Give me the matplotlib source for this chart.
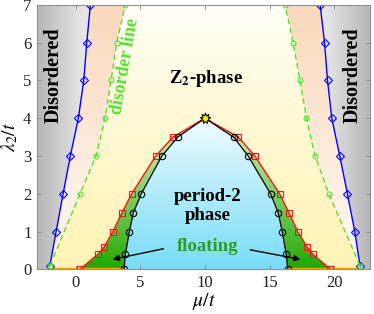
import numpy as np
import matplotlib
matplotlib.use("Agg")
import matplotlib.pyplot as plt
from matplotlib.patches import Polygon
from matplotlib.colors import to_rgb

plt.rcParams['font.family'] = ['Liberation Serif', 'DejaVu Serif']
plt.rcParams['mathtext.fontset'] = 'stix'

# ---- data ----
blue_lam = [0.1, 1, 2, 3, 4, 5, 6, 7]
blue_left_mu = [-2.0, -1.52, -0.98, -0.42, 0.2, 0.62, 0.85, 1.13]
blue_right_mu = [22.0, 21.6, 21.03, 20.44, 19.82, 19.49, 19.26, 18.92]

green_lam = [0.1, 2, 3, 4, 5, 6, 7]
green_left_mu = [-2.0, 0.33, 1.57, 2.27, 2.73, 3.17, 3.84]
green_right_mu = [22.0, 19.59, 18.53, 17.86, 17.35, 16.83, 16.21]

red_lam = [0, 0.4, 0.6, 1, 1.5, 2, 3, 3.5, 4]
red_left_mu = [0.33, 1.72, 2.21, 2.88, 3.58, 4.33, 6.19, 7.52, 10]
red_right_mu = [19.72, 18.35, 17.89, 17.19, 16.5, 15.78, 13.87, 12.58, 10]

black_lam = [0, 0.4, 1, 1.5, 2, 3, 3.5, 4]
black_left_mu = [3.74, 3.84, 4.15, 4.46, 5.07, 6.67, 7.89, 10]
black_right_mu = [16.42, 16.29, 15.98, 15.67, 15.08, 13.35, 12.22, 10]

star_mu, star_lam = 10, 4

xticks = [0, 5, 10, 15, 20]
yticks = [0, 1, 2, 3, 4, 5, 6, 7]
XMIN, XMAX, YMIN, YMAX = -3, 22.8, 0, 7

fig = plt.figure(figsize=(3.74, 3.14), dpi=100)
ax = fig.add_axes([0.099, 0.1423, 0.891, 0.842])
ax.set_xlim(XMIN, XMAX)
ax.set_ylim(YMIN, YMAX)

extent = [XMIN, XMAX, YMIN, YMAX]
nx, ny = 300, 300
gx = np.linspace(XMIN, XMAX, nx)
gy = np.linspace(YMAX, YMIN, ny)  # top row first
GX, GY = np.meshgrid(gx, gy)


def grad_img(c0, c1, t):
    c0 = np.array(to_rgb(c0)); c1 = np.array(to_rgb(c1))
    t = np.clip(t, 0, 1)[..., None]
    return c0 * (1 - t) + c1 * t


def region(img, verts, z):
    poly = Polygon(verts, closed=True, facecolor='none', edgecolor='none', transform=ax.transData)
    ax.add_patch(poly)
    im = ax.imshow(img, extent=extent, origin='upper', aspect='auto', zorder=z, interpolation='bilinear')
    im.set_clip_path(poly)


# Z2 background: vertical gradient white (top) -> pale yellow (bottom)
z2 = grad_img('#FFFFFA', '#FFF3B4', (1 - GY / 7) ** 0.8)
region(z2, [(XMIN, 0), (XMAX, 0), (XMAX, 7), (XMIN, 7)], 0.1)

# gray regions
gl = grad_img('#B6B6B6', '#E6E6E6', (GX - XMIN) / 3.5)
region(gl, [(XMIN, 0), (XMIN, 7)] + list(zip(blue_left_mu[::-1], blue_lam[::-1])) + [(blue_left_mu[0], 0)], 0.2)
gr = grad_img('#B6B6B6', '#E6E6E6', (XMAX - GX) / 3.5)
region(gr, [(XMAX, 0), (XMAX, 7)] + list(zip(blue_right_mu[::-1], blue_lam[::-1])) + [(blue_right_mu[0], 0)], 0.2)

# peach regions between blue and green
pe = grad_img('#FFFAF5', '#FAD8BA', (GY / 7) ** 1.0)
region(pe, list(zip(blue_left_mu, blue_lam)) + list(zip(green_left_mu[::-1], green_lam[::-1])), 0.2)
region(pe, list(zip(blue_right_mu, blue_lam)) + list(zip(green_right_mu[::-1], green_lam[::-1])), 0.2)

# floating (between red and black)
fl = grad_img('#1FA600', '#D2EEB6', (GY / 3.8) ** 0.9)
region(fl, list(zip(red_left_mu, red_lam)) + list(zip(red_right_mu[::-1], red_lam[::-1])), 0.3)

# period-2 (inside black)
cy = grad_img('#7ADDF7', '#F2FCFF', (GY / 4.0) ** 1.1)
region(cy, list(zip(black_left_mu, black_lam)) + list(zip(black_right_mu[::-1], black_lam[::-1])), 0.4)

# orange lines along axis
ax.plot([blue_left_mu[0], black_left_mu[0]], [0, 0], color='#FFA500', lw=2.5, zorder=1, solid_capstyle='butt')
ax.plot([black_right_mu[0], blue_right_mu[0]], [0, 0], color='#FFA500', lw=2.5, zorder=1, solid_capstyle='butt')

# lines
mk = dict(markerfacecolor='none', markeredgewidth=0.8)
for mu in (blue_left_mu, blue_right_mu):
    ax.plot(mu, blue_lam, '-', color='#0000FF', lw=1.0, marker='D', ms=3.6, zorder=3, **mk)
for mu in (green_left_mu, green_right_mu):
    ax.plot(mu, green_lam, '--', color='#55E033', lw=1.0, marker='o', ms=3.6, zorder=3, dashes=(4, 2.5), **mk)
for mu in (red_left_mu, red_right_mu):
    ax.plot(mu[:-1], red_lam[:-1], '-', color='#F01818', lw=1.0, marker='s', ms=4.2, zorder=3, **mk)
    ax.plot(mu[-2:], red_lam[-2:], '-', color='#F01818', lw=1.0, zorder=3)
for mu in (black_left_mu, black_right_mu):
    ax.plot(mu[:-1], black_lam[:-1], '-', color='black', lw=0.9, marker='o', ms=4.6, zorder=3.5, **mk)
    ax.plot(mu[-2:], black_lam[-2:], '-', color='black', lw=0.9, zorder=3.5)

ax.plot([star_mu], [star_lam], marker=(9, 1, 0), ms=8, markerfacecolor='#FFF200',
        markeredgecolor='black', markeredgewidth=0.7, zorder=5, linestyle='none')

# texts
ax.text(-1.73, 5.13, 'Disordered', rotation=90, ha='center', va='center', fontsize=14.5,
        fontweight='bold', zorder=6)
ax.text(21.47, 5.13, 'Disordered', rotation=90, ha='center', va='center', fontsize=14.5,
        fontweight='bold', zorder=6)
ax.text(3.85, 5.37, 'disorder line', rotation=80, ha='center', va='center', fontsize=13,
        fontweight='bold', color='#55E033', zorder=6)
ax.text(10.1, 5.06, r'Z$_\mathbf{2}$-phase', ha='center', va='center', fontsize=13.5,
        fontweight='bold', zorder=6)
ax.text(10.2, 1.68, 'period-2\nphase', ha='center', va='center', fontsize=13.5,
        fontweight='bold', zorder=6, linespacing=1.1)
ax.text(10.25, 0.6, 'floating', ha='center', va='center', fontsize=13.5,
        fontweight='bold', color='#2E9E1E', zorder=6)
ax.annotate('', xy=(2.65, 0.25), xytext=(7.0, 0.56),
            arrowprops=dict(arrowstyle='-|>', color='black', lw=1.0, mutation_scale=9), zorder=6)
ax.annotate('', xy=(17.6, 0.25), xytext=(13.3, 0.53),
            arrowprops=dict(arrowstyle='-|>', color='black', lw=1.0, mutation_scale=9), zorder=6)

# axes styling
ax.set_xticks(xticks)
ax.set_yticks(yticks)
ax.tick_params(direction='in', top=True, right=True, length=3, width=0.6, color='#808080',
               labelsize=12, labelcolor='#222222', pad=4)
for s in ax.spines.values():
    s.set_color('#909090')
    s.set_linewidth(0.8)
    s.set_zorder(7)
ax.set_xlabel(r'$\mu/t$', fontsize=14, labelpad=0)
ax.set_ylabel(r'$\lambda_2/t$', fontsize=14, labelpad=2)

fig.savefig('out.png', dpi=100)
